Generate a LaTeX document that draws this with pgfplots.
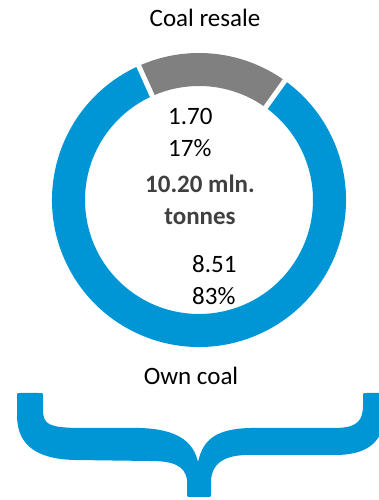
\documentclass[border=0pt]{standalone}
\usepackage{pgfplots}
\pgfplotsset{compat=1.18}
\usepackage{fontspec}
\setmainfont{Carlito}
\definecolor{donutblue}{RGB}{0,150,214}
\definecolor{donutgray}{RGB}{128,128,128}
\definecolor{darktext}{RGB}{64,64,64}
\begin{document}
\begin{tikzpicture}
\pgfmathsetmacro{\vresale}{1.70}
\pgfmathsetmacro{\vown}{8.51}
\pgfmathsetmacro{\vtot}{\vresale+\vown}
\pgfmathsetmacro{\aS}{114.2}
\pgfmathsetmacro{\aG}{\aS-360*\vresale/\vtot}
\pgfmathsetmacro{\aB}{\aG+360}
\def\cx{199}\def\cy{300}\def\ro{147}\def\ri{114}
\begin{axis}[scale only axis, width=379pt, height=500pt,
  xmin=0, xmax=379, ymin=0, ymax=500, axis lines=none, clip=false]
% gray slice (coal resale)
\fill[donutgray] (axis cs:{\cx+\ro*cos(\aG)},{\cy+\ro*sin(\aG)})
  arc[start angle=\aG, end angle=\aS, radius=\ro pt]
  -- (axis cs:{\cx+\ri*cos(\aS)},{\cy+\ri*sin(\aS)})
  arc[start angle=\aS, end angle=\aG, radius=\ri pt] -- cycle;
% blue slice (own coal)
\fill[donutblue] (axis cs:{\cx+\ro*cos(\aS)},{\cy+\ro*sin(\aS)})
  arc[start angle=\aS, end angle=\aB, radius=\ro pt]
  -- (axis cs:{\cx+\ri*cos(\aB)},{\cy+\ri*sin(\aB)})
  arc[start angle=\aB, end angle=\aS, radius=\ri pt] -- cycle;
% white separators
\draw[white, line width=5pt] (axis cs:{\cx+(\ri-3)*cos(\aS)},{\cy+(\ri-3)*sin(\aS)}) -- (axis cs:{\cx+(\ro+3)*cos(\aS)},{\cy+(\ro+3)*sin(\aS)});
\draw[white, line width=5pt] (axis cs:{\cx+(\ri-3)*cos(\aG)},{\cy+(\ri-3)*sin(\aG)}) -- (axis cs:{\cx+(\ro+3)*cos(\aG)},{\cy+(\ro+3)*sin(\aG)});
% labels
\node[anchor=base, font=\fontsize{25}{30}\selectfont] at (axis cs:205,473) {Coal resale};
\node[anchor=base, font=\fontsize{25}{30}\selectfont] at (axis cs:191,115) {Own coal};
\node[anchor=base west, inner sep=0pt, font=\fontsize{25}{30}\selectfont] at (axis cs:168,375) {1.70};
\node[anchor=base west, inner sep=0pt, font=\fontsize{25}{30}\selectfont] at (axis cs:168,343) {17\%};
\node[anchor=base, inner sep=0pt, text=darktext, font=\fontsize{25}{30}\selectfont\bfseries] at (axis cs:200,307) {10.20 mln.};
\node[anchor=base, inner sep=0pt, text=darktext, font=\fontsize{25}{30}\selectfont\bfseries] at (axis cs:200,275) {tonnes};
\node[anchor=base west, inner sep=0pt, font=\fontsize{25}{30}\selectfont] at (axis cs:192,227) {8.51};
\node[anchor=base west, inner sep=0pt, font=\fontsize{25}{30}\selectfont] at (axis cs:192,195) {83\%};
% brace
\fill[donutblue] (axis cs:17,103) -- (axis cs:17,105) .. controls (axis cs:17,107) .. (axis cs:21,107)
  -- (axis cs:39,107) .. controls (axis cs:43,107) .. (axis cs:43,103)
  -- (axis cs:43,90)
  .. controls (axis cs:43,75) and (axis cs:50,73) .. (axis cs:75,72)
  -- (axis cs:140,72)
  .. controls (axis cs:175,71) and (axis cs:193,60) .. (axis cs:198,38)
  .. controls (axis cs:203,60) and (axis cs:215,71) .. (axis cs:250,72)
  -- (axis cs:335,72)
  .. controls (axis cs:358,72) and (axis cs:363,80) .. (axis cs:363,95)
  -- (axis cs:363,103) .. controls (axis cs:363,107) .. (axis cs:367,107)
  -- (axis cs:385,107) -- (axis cs:385,90)
  .. controls (axis cs:385,60) and (axis cs:370,45) .. (axis cs:335,45)
  -- (axis cs:245,45)
  .. controls (axis cs:222,44) and (axis cs:212,35) .. (axis cs:211,20)
  -- (axis cs:211,7) .. controls (axis cs:211,3) .. (axis cs:207,3)
  -- (axis cs:191,3) .. controls (axis cs:187,3) .. (axis cs:187,7)
  -- (axis cs:187,20)
  .. controls (axis cs:185,35) and (axis cs:172,39) .. (axis cs:150,39)
  -- (axis cs:75,40)
  .. controls (axis cs:30,41) and (axis cs:17,60) .. (axis cs:17,85) -- cycle;
\coordinate (bl) at (axis cs:0,0);
\coordinate (tr) at (axis cs:379,500);
\end{axis}
\pgfresetboundingbox
\useasboundingbox (bl) rectangle (tr);
\end{tikzpicture}
\end{document}
